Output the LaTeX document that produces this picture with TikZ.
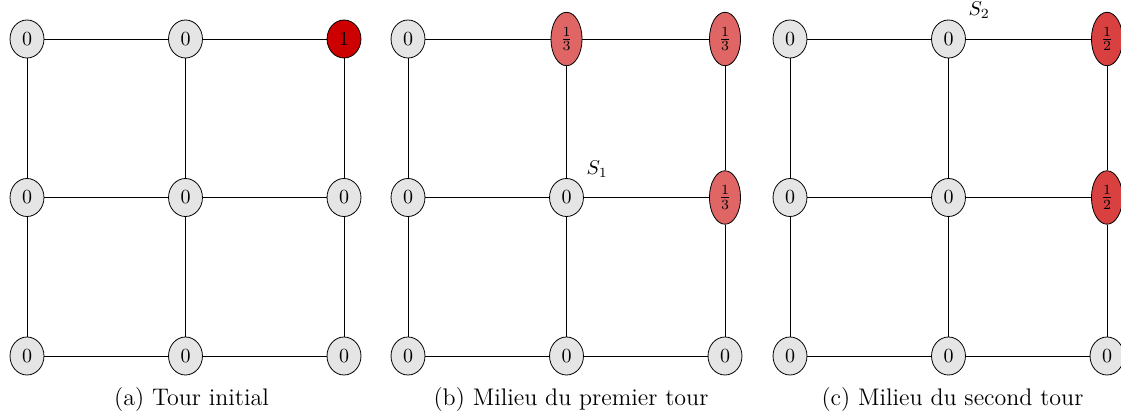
\documentclass[tikz,border=0pt]{standalone}
\usetikzlibrary{shapes.geometric}
\nulldelimiterspace=0pt
\definecolor{deepred}{rgb}{0.8,0,0}
\tikzset{
  vnode/.style={ellipse, draw=black, fill=gray!20, inner sep=3.5pt, font=\fontsize{10}{12}\selectfont},
  v1/.style={vnode, fill=deepred},
  v3/.style={vnode, fill=deepred!60},
  v2/.style={vnode, fill=deepred!75},
  edge/.style={draw=black, line width=0.4pt},
  capt/.style={anchor=base, inner sep=0pt, font=\fontsize{12}{14.4}\selectfont},
}
\begin{document}
\begin{tikzpicture}[x=0.5pt, y=-0.5pt]
\useasboundingbox (0,0) rectangle (1121,417);
% panel (a)
\node[vnode] (a11) at (27,39) {$0$};
\node[vnode] (a12) at (185.5,39) {$0$};
\node[v1]    (a13) at (344,39) {$1$};
\node[vnode] (a21) at (27,197.5) {$0$};
\node[vnode] (a22) at (185.5,197.5) {$0$};
\node[vnode] (a23) at (344,197.5) {$0$};
\node[vnode] (a31) at (27,356) {$0$};
\node[vnode] (a32) at (185.5,356) {$0$};
\node[vnode] (a33) at (344,356) {$0$};
% panel (b)
\node[vnode] (b11) at (408,39) {$0$};
\node[v3]    (b12) at (566.5,39) {$\frac{1}{3}$};
\node[v3]    (b13) at (725,39) {$\frac{1}{3}$};
\node[vnode] (b21) at (408,197.5) {$0$};
\node[vnode, label={above right:$S_1$}] (b22) at (566.5,197.5) {$0$};
\node[v3]    (b23) at (725,197.5) {$\frac{1}{3}$};
\node[vnode] (b31) at (408,356) {$0$};
\node[vnode] (b32) at (566.5,356) {$0$};
\node[vnode] (b33) at (725,356) {$0$};
% panel (c)
\node[vnode] (c11) at (790,39) {$0$};
\node[vnode, label={above right:$S_2$}] (c12) at (948.5,39) {$0$};
\node[v2]    (c13) at (1107,39) {$\frac{1}{2}$};
\node[vnode] (c21) at (790,197.5) {$0$};
\node[vnode] (c22) at (948.5,197.5) {$0$};
\node[v2]    (c23) at (1107,197.5) {$\frac{1}{2}$};
\node[vnode] (c31) at (790,356) {$0$};
\node[vnode] (c32) at (948.5,356) {$0$};
\node[vnode] (c33) at (1107,356) {$0$};
% edges
\foreach \p in {a,b,c}{
  \foreach \r in {1,2,3}{
    \draw[edge] (\p\r1) -- (\p\r2);
    \draw[edge] (\p\r2) -- (\p\r3);
    \draw[edge] (\p1\r) -- (\p2\r);
    \draw[edge] (\p2\r) -- (\p3\r);
  }
}
% captions
\node[capt] (capa) at (191.5,405) {(a) Tour initial};
\node[capt] (capb) at (571,405) {(b) Milieu du premier tour};
\node[capt] (capc) at (952.5,405) {(c) Milieu du second tour};
\end{tikzpicture}
\end{document}
